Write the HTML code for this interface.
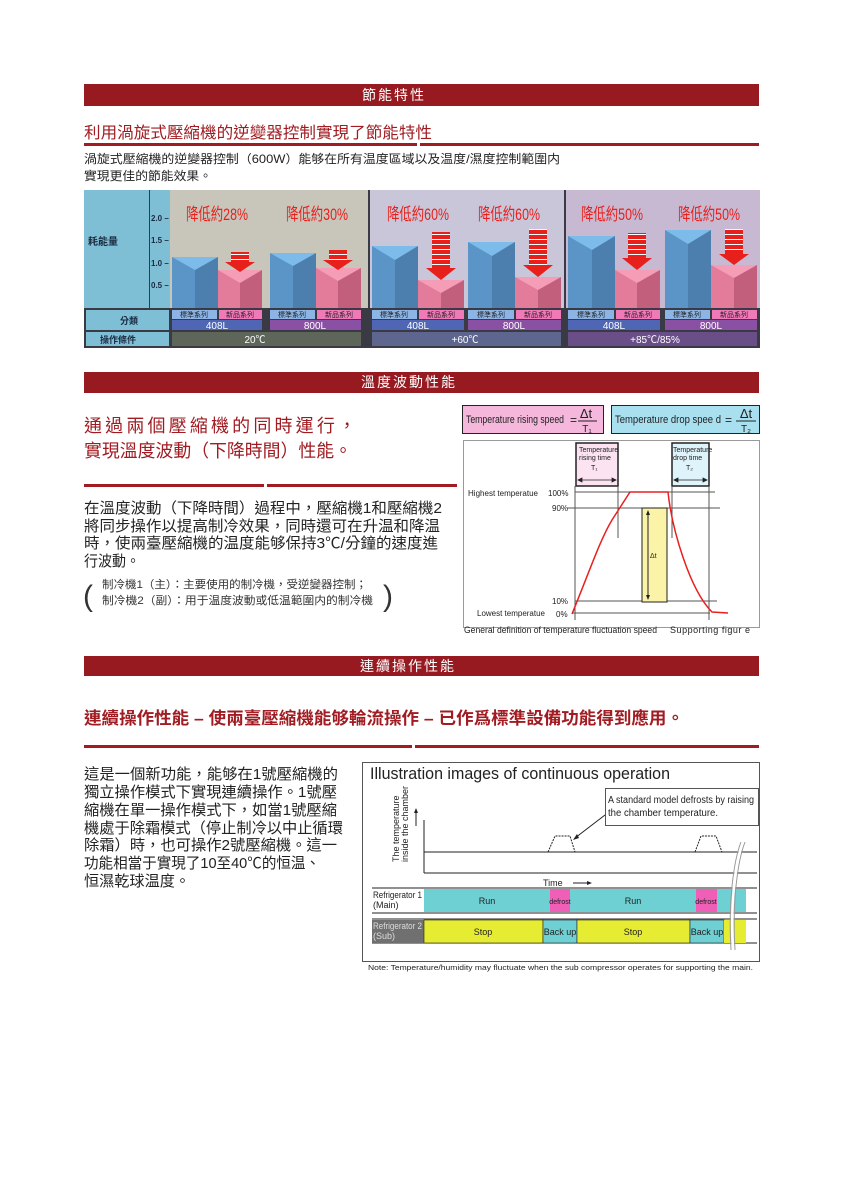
<!DOCTYPE html>
<html><head><meta charset="utf-8"><style>
html,body{margin:0;padding:0;background:#fff;}
svg{display:block;}
text{font-family:"Liberation Sans","Noto Sans CJK TC",sans-serif;}
</style></head><body>
<svg width="860" height="1179" viewBox="0 0 860 1179" xmlns="http://www.w3.org/2000/svg">
<!-- Section 1 -->
<rect x="84" y="84" width="675" height="22" fill="#961a20"/>
<text x="394" y="100" fill="#fff" font-size="14" text-anchor="middle" letter-spacing="2">節能特性</text>
<text x="84" y="138" fill="#a01c22" font-size="16" textLength="348" lengthAdjust="spacingAndGlyphs">利用渦旋式壓縮機的逆變器控制實現了節能特性</text>
<rect x="84" y="143" width="333" height="3" fill="#a01c22"/><rect x="420" y="143" width="339" height="3" fill="#a01c22"/>
<text x="84" y="163" fill="#222" font-size="12" textLength="476" lengthAdjust="spacingAndGlyphs">渦旋式壓縮機的逆變器控制（600W）能够在所有温度區域以及温度/濕度控制範圍内</text>
<text x="84" y="180" fill="#222" font-size="12" textLength="128" lengthAdjust="spacingAndGlyphs">實現更佳的節能效果。</text>

<!-- Chart -->
<rect x="84" y="190" width="676" height="158" fill="#3a3a44"/>
<rect x="84" y="190" width="65" height="118" fill="#7fbfd6"/>
<rect x="150" y="190" width="20" height="118" fill="#7fbfd6"/>
<rect x="170" y="190" width="198" height="118" fill="#c8c5bb"/>
<rect x="370" y="190" width="194" height="118" fill="#c9c6da"/>
<rect x="566" y="190" width="194" height="118" fill="#c8b9d3"/>
<text x="88" y="245" font-size="10" font-weight="bold" fill="#1a2a40">耗能量</text>
<g font-size="8" fill="#1a2a40" font-weight="bold">
<text x="151" y="221">2.0 –</text><text x="151" y="243">1.5 –</text><text x="151" y="266">1.0 –</text><text x="151" y="288">0.5 –</text>
</g>
<g font-size="17" fill="#e8201c">
<text x="186" y="220" textLength="62" lengthAdjust="spacingAndGlyphs">降低約28%</text><text x="286" y="220" textLength="62" lengthAdjust="spacingAndGlyphs">降低約30%</text>
<text x="387" y="220" textLength="62" lengthAdjust="spacingAndGlyphs">降低約60%</text><text x="478" y="220" textLength="62" lengthAdjust="spacingAndGlyphs">降低約60%</text>
<text x="581" y="220" textLength="62" lengthAdjust="spacingAndGlyphs">降低約50%</text><text x="678" y="220" textLength="62" lengthAdjust="spacingAndGlyphs">降低約50%</text>
</g>
<!-- bars -->
<g>
<rect x="172" y="257" width="23" height="51" fill="#5b95c8"/><rect x="195" y="257" width="23" height="51" fill="#4c7eae"/><polygon points="172,257 218,257 195,270" fill="#7cbbea"/>
<rect x="270" y="253" width="23" height="55" fill="#5b95c8"/><rect x="293" y="253" width="23" height="55" fill="#4c7eae"/><polygon points="270,253 316,253 293,266" fill="#7cbbea"/>
<rect x="372" y="246" width="23" height="62" fill="#5b95c8"/><rect x="395" y="246" width="23" height="62" fill="#4c7eae"/><polygon points="372,246 418,246 395,260" fill="#7cbbea"/>
<rect x="468" y="242" width="24" height="66" fill="#5b95c8"/><rect x="492" y="242" width="23" height="66" fill="#4c7eae"/><polygon points="468,242 515,242 492,256" fill="#7cbbea"/>
<rect x="568" y="236" width="24" height="72" fill="#5b95c8"/><rect x="592" y="236" width="23" height="72" fill="#4c7eae"/><polygon points="568,236 615,236 592,250" fill="#7cbbea"/>
<rect x="665" y="230" width="23" height="78" fill="#5b95c8"/><rect x="688" y="230" width="23" height="78" fill="#4c7eae"/><polygon points="665,230 711,230 688,244" fill="#7cbbea"/>
<rect x="218" y="270" width="22" height="38" fill="#e27c9a"/><rect x="240" y="270" width="22" height="38" fill="#c25f7d"/><polygon points="218,270 262,270 240,283" fill="#f59cb6"/>
<rect x="316" y="268" width="22" height="40" fill="#e27c9a"/><rect x="338" y="268" width="23" height="40" fill="#c25f7d"/><polygon points="316,268 361,268 338,281" fill="#f59cb6"/>
<rect x="418" y="280" width="23" height="28" fill="#e27c9a"/><rect x="441" y="280" width="23" height="28" fill="#c25f7d"/><polygon points="418,280 464,280 441,293" fill="#f59cb6"/>
<rect x="515" y="277" width="23" height="31" fill="#e27c9a"/><rect x="538" y="277" width="23" height="31" fill="#c25f7d"/><polygon points="515,277 561,277 538,290" fill="#f59cb6"/>
<rect x="615" y="270" width="22" height="38" fill="#e27c9a"/><rect x="637" y="270" width="23" height="38" fill="#c25f7d"/><polygon points="615,270 660,270 637,283" fill="#f59cb6"/>
<rect x="711" y="265" width="23" height="43" fill="#e27c9a"/><rect x="734" y="265" width="23" height="43" fill="#c25f7d"/><polygon points="711,265 757,265 734,278" fill="#f59cb6"/>
</g>
<defs><pattern id="st" width="4" height="5" patternUnits="userSpaceOnUse"><rect width="4" height="4" fill="#e8201c"/><rect y="4" width="4" height="1" fill="#fff"/></pattern></defs>
<g fill="#e8201c">
<rect x="231" y="252" width="18" height="10" fill="url(#st)"/><polygon points="225,262 255,262 240,272"/>
<rect x="329" y="250" width="18" height="10" fill="url(#st)"/><polygon points="323,260 353,260 338,270"/>
<rect x="432" y="232" width="18" height="36" fill="url(#st)"/><polygon points="426,268 456,268 441,280"/>
<rect x="529" y="229" width="18" height="36" fill="url(#st)"/><polygon points="523,265 553,265 538,277"/>
<rect x="628" y="233" width="18" height="25" fill="url(#st)"/><polygon points="622,258 652,258 637,270"/>
<rect x="725" y="229" width="18" height="25" fill="url(#st)"/><polygon points="719,254 749,254 734,265"/>
</g>
<rect x="86" y="310" width="83" height="20" fill="#7fbfd6"/>
<rect x="86" y="332" width="83" height="14" fill="#7fbfd6"/>
<text x="120" y="324" font-size="9" font-weight="bold" fill="#1a2a40">分類</text>
<text x="100" y="343" font-size="9" font-weight="bold" fill="#1a2a40">操作條件</text>
<g font-size="7" fill="#222" text-anchor="middle">
<rect x="172" y="310" width="45" height="9" fill="#8cb4e4"/><rect x="219" y="310" width="43" height="9" fill="#f07ab8"/>
<rect x="270" y="310" width="45" height="9" fill="#8cb4e4"/><rect x="317" y="310" width="44" height="9" fill="#f07ab8"/>
<rect x="372" y="310" width="45" height="9" fill="#8cb4e4"/><rect x="419" y="310" width="45" height="9" fill="#f07ab8"/>
<rect x="468" y="310" width="46" height="9" fill="#8cb4e4"/><rect x="516" y="310" width="45" height="9" fill="#f07ab8"/>
<rect x="568" y="310" width="46" height="9" fill="#8cb4e4"/><rect x="616" y="310" width="44" height="9" fill="#f07ab8"/>
<rect x="665" y="310" width="45" height="9" fill="#8cb4e4"/><rect x="712" y="310" width="45" height="9" fill="#f07ab8"/>
<text x="194" y="317">標準系列</text><text x="240" y="317">新品系列</text>
<text x="292" y="317">標準系列</text><text x="339" y="317">新品系列</text>
<text x="394" y="317">標準系列</text><text x="441" y="317">新品系列</text>
<text x="491" y="317">標準系列</text><text x="538" y="317">新品系列</text>
<text x="591" y="317">標準系列</text><text x="638" y="317">新品系列</text>
<text x="687" y="317">標準系列</text><text x="734" y="317">新品系列</text>
</g>
<g font-size="10" fill="#fff" text-anchor="middle">
<rect x="172" y="320" width="90" height="10" fill="#4f66b4"/><rect x="270" y="320" width="91" height="10" fill="#8a50a4"/>
<rect x="372" y="320" width="92" height="10" fill="#4f66b4"/><rect x="468" y="320" width="93" height="10" fill="#8a50a4"/>
<rect x="568" y="320" width="92" height="10" fill="#4f66b4"/><rect x="665" y="320" width="92" height="10" fill="#8a50a4"/>
<text x="217" y="329">408L</text><text x="315" y="329">800L</text>
<text x="418" y="329">408L</text><text x="514" y="329">800L</text>
<text x="614" y="329">408L</text><text x="711" y="329">800L</text>
<rect x="172" y="332" width="189" height="14" fill="#5e665a"/>
<rect x="372" y="332" width="189" height="14" fill="#5e6690"/>
<rect x="568" y="332" width="189" height="14" fill="#6a4e88"/>
<text x="255" y="343">20℃</text><text x="465" y="343">+60℃</text><text x="655" y="343">+85℃/85%</text>
</g>

<!-- Section 2 -->
<rect x="84" y="372" width="675" height="21" fill="#961a20"/>
<text x="409" y="387" fill="#fff" font-size="14" text-anchor="middle" letter-spacing="2">溫度波動性能</text>
<text x="84" y="432" fill="#a01c22" font-size="18" textLength="272" lengthAdjust="spacing">通過兩個壓縮機的同時運行，</text>
<text x="84" y="457" fill="#a01c22" font-size="18" textLength="268" lengthAdjust="spacingAndGlyphs">實現溫度波動（下降時間）性能。</text>
<rect x="84" y="484" width="180" height="3" fill="#a01c22"/><rect x="267" y="484" width="190" height="3" fill="#a01c22"/>
<g font-size="15" fill="#222">
<text x="84" y="513" textLength="358" lengthAdjust="spacingAndGlyphs">在溫度波動（下降時間）過程中，壓縮機1和壓縮機2</text>
<text x="84" y="531" textLength="356" lengthAdjust="spacingAndGlyphs">將同步操作以提高制冷效果，同時還可在升温和降温</text>
<text x="84" y="548" textLength="354" lengthAdjust="spacingAndGlyphs">時，使兩臺壓縮機的温度能够保持3℃/分鐘的速度進</text>
<text x="84" y="566" textLength="56" lengthAdjust="spacingAndGlyphs">行波動。</text>
</g>
<text x="83" y="606" font-size="30" fill="#333" font-weight="lighter">(</text>
<text x="383" y="606" font-size="30" fill="#333" font-weight="lighter">)</text>
<text x="102" y="588" font-size="11" fill="#333" textLength="265" lengthAdjust="spacingAndGlyphs">制冷機1（主）：主要使用的制冷機，受逆變器控制；</text>
<text x="102" y="604" font-size="11" fill="#333" textLength="271" lengthAdjust="spacingAndGlyphs">制冷機2（副）：用于温度波動或低温範圍内的制冷機</text>

<!-- temp diagram -->
<rect x="462.5" y="405.5" width="141" height="28" fill="#f5b8dc" stroke="#222"/>
<text x="466" y="423" font-size="11" fill="#222" textLength="98" lengthAdjust="spacingAndGlyphs">Temperature rising speed</text>
<text x="570" y="424" font-size="12" fill="#222">=</text>
<text x="586" y="418" font-size="13" fill="#222" text-anchor="middle">Δt</text>
<line x1="578" y1="421" x2="597" y2="421" stroke="#222"/>
<text x="587" y="432" font-size="10" fill="#222" text-anchor="middle">T₁</text>
<rect x="611.5" y="405.5" width="148" height="28" fill="#a9e0f0" stroke="#222"/>
<text x="615" y="423" font-size="11" fill="#222" textLength="106" lengthAdjust="spacingAndGlyphs">Temperature drop spee d</text>
<text x="725" y="424" font-size="12" fill="#222">=</text>
<text x="746" y="418" font-size="13" fill="#222" text-anchor="middle">Δt</text>
<line x1="736" y1="421" x2="756" y2="421" stroke="#222"/>
<text x="746" y="432" font-size="10" fill="#222" text-anchor="middle">T₂</text>
<rect x="463.5" y="440.5" width="296" height="187" fill="#fff" stroke="#999"/>
<rect x="576" y="443" width="42" height="43" fill="#fbe3f1" stroke="#222" stroke-width="1.5"/>
<rect x="672" y="443" width="37" height="43" fill="#dff3fa" stroke="#222" stroke-width="1.5"/>
<g font-size="7" fill="#222">
<text x="579" y="452">Temperature</text><text x="579" y="460">rising time</text><text x="591" y="470">T₁</text>
<text x="673" y="452">Temperature</text><text x="673" y="460">drop time</text><text x="686" y="470">T₂</text>
</g>
<g stroke="#222" stroke-width="0.8" fill="#222">
<line x1="578" y1="480" x2="616" y2="480"/><polygon points="578,480 582,478 582,482"/><polygon points="616,480 612,478 612,482"/>
<line x1="674" y1="480" x2="707" y2="480"/><polygon points="674,480 678,478 678,482"/><polygon points="707,480 703,478 703,482"/>
</g>
<g stroke="#555" stroke-width="1">
<line x1="575" y1="492" x2="715" y2="492"/><line x1="567" y1="508" x2="720" y2="508"/>
<line x1="575" y1="601" x2="717" y2="601"/><line x1="572" y1="613" x2="710" y2="613"/>
<line x1="575" y1="486" x2="575" y2="620"/><line x1="618" y1="486" x2="618" y2="538"/>
<line x1="672" y1="486" x2="672" y2="538"/><line x1="709" y1="486" x2="709" y2="620"/>
</g>
<rect x="642" y="508" width="25" height="94" fill="#fbf3a8" stroke="#222"/>
<line x1="648" y1="512" x2="648" y2="598" stroke="#222"/>
<polygon points="648,510 646,515 650,515" fill="#222"/><polygon points="648,600 646,595 650,595" fill="#222"/>
<text x="650" y="558" font-size="7" fill="#222">Δt</text>
<path d="M572,614 C590,570 600,540 612,520 L630,492 L668,492 C672,530 690,590 712,612 L728,613" fill="none" stroke="#e82020" stroke-width="1.5"/>
<g font-size="8" fill="#222">
<text x="468" y="496" textLength="70" lengthAdjust="spacingAndGlyphs">Highest temperatue</text>
<text x="548" y="496">100%</text><text x="552" y="511">90%</text><text x="552" y="604">10%</text>
<text x="477" y="616" textLength="68" lengthAdjust="spacingAndGlyphs">Lowest temperatue</text><text x="556" y="617">0%</text>
<text x="464" y="633" font-size="9" textLength="193" lengthAdjust="spacingAndGlyphs">General definition of temperature fluctuation speed</text>
<text x="670" y="633" font-size="9" textLength="80" lengthAdjust="spacing">Supporting figur e</text>
</g>

<!-- Section 3 -->
<rect x="84" y="656" width="675" height="20" fill="#961a20"/>
<text x="408" y="671" fill="#fff" font-size="14" text-anchor="middle" letter-spacing="2">連續操作性能</text>
<text x="84" y="724" fill="#a01c22" font-size="17" font-weight="bold" textLength="600" lengthAdjust="spacingAndGlyphs">連續操作性能 – 使兩臺壓縮機能够輪流操作 – 已作爲標準設備功能得到應用。</text>
<rect x="84" y="745" width="328" height="3" fill="#a01c22"/><rect x="415" y="745" width="344" height="3" fill="#a01c22"/>
<g font-size="15" fill="#222">
<text x="84" y="779" textLength="254" lengthAdjust="spacingAndGlyphs">這是一個新功能，能够在1號壓縮機的</text>
<text x="84" y="797" textLength="253" lengthAdjust="spacingAndGlyphs">獨立操作模式下實現連續操作。1號壓</text>
<text x="84" y="815" textLength="253" lengthAdjust="spacingAndGlyphs">縮機在單一操作模式下，如當1號壓縮</text>
<text x="84" y="833" textLength="259" lengthAdjust="spacingAndGlyphs">機處于除霜模式（停止制冷以中止循環</text>
<text x="84" y="850" textLength="253" lengthAdjust="spacingAndGlyphs">除霜）時，也可操作2號壓縮機。這一</text>
<text x="84" y="868" textLength="236" lengthAdjust="spacingAndGlyphs">功能相當于實現了10至40℃的恒温、</text>
<text x="84" y="886" textLength="106" lengthAdjust="spacingAndGlyphs">恒濕乾球温度。</text>
</g>

<!-- continuous diagram -->
<rect x="362.5" y="762.5" width="397" height="199" fill="#fff" stroke="#555"/>
<text x="370" y="779" font-size="17" fill="#222" textLength="300" lengthAdjust="spacingAndGlyphs">Illustration images of continuous operation</text>
<rect x="605.5" y="788.5" width="153" height="37" fill="#fff" stroke="#555"/>
<text x="608" y="803" font-size="10" fill="#222" textLength="146" lengthAdjust="spacingAndGlyphs">A standard model defrosts by raising</text>
<text x="608" y="816" font-size="10" fill="#222" textLength="110" lengthAdjust="spacingAndGlyphs">the chamber temperature.</text>
<line x1="605" y1="815" x2="575" y2="838" stroke="#222"/>
<polygon points="573,840 577,834 579,838" fill="#222"/>
<text transform="translate(399,862) rotate(-90)" font-size="9" fill="#222">The temperature</text>
<text transform="translate(408,862) rotate(-90)" font-size="9" fill="#222">inside the chamber</text>
<line x1="416" y1="826" x2="416" y2="812" stroke="#222"/><polygon points="416,808 414,813 418,813" fill="#222"/>
<line x1="424" y1="820" x2="424" y2="873" stroke="#222"/>
<line x1="424" y1="873" x2="757" y2="873" stroke="#222"/>
<line x1="424" y1="852" x2="757" y2="852" stroke="#222"/>
<path d="M548,852 L555,836 L570,836 L575,852" fill="none" stroke="#222" stroke-dasharray="2,1"/>
<path d="M695,852 L701,836 L716,836 L722,852" fill="none" stroke="#222" stroke-dasharray="2,1"/>
<text x="543" y="886" font-size="9" fill="#222">Time</text>
<line x1="573" y1="883" x2="588" y2="883" stroke="#222"/><polygon points="592,883 587,881 587,885" fill="#222"/>
<line x1="372" y1="888" x2="757" y2="888" stroke="#222"/>
<line x1="372" y1="913" x2="757" y2="913" stroke="#222"/>
<line x1="372" y1="919" x2="757" y2="919" stroke="#222"/>
<line x1="372" y1="943" x2="757" y2="943" stroke="#222"/>
<rect x="424" y="889" width="126" height="23" fill="#6fd0d4"/>
<rect x="550" y="889" width="20" height="23" fill="#ef5fb8"/>
<rect x="570" y="889" width="126" height="23" fill="#6fd0d4"/>
<rect x="696" y="889" width="21" height="23" fill="#ef5fb8"/>
<rect x="717" y="889" width="29" height="23" fill="#6fd0d4"/>
<rect x="372" y="920" width="52" height="23" fill="#707070"/>
<rect x="424" y="920" width="119" height="23" fill="#e6ec32" stroke="#222" stroke-width="0.6"/>
<rect x="543" y="920" width="34" height="23" fill="#6fd0d4" stroke="#222" stroke-width="0.6"/>
<rect x="577" y="920" width="113" height="23" fill="#e6ec32" stroke="#222" stroke-width="0.6"/>
<rect x="690" y="920" width="34" height="23" fill="#6fd0d4" stroke="#222" stroke-width="0.6"/>
<rect x="724" y="920" width="22" height="23" fill="#e6ec32"/>
<path d="M731,950 C728,900 734,860 741,842 M735,950 C732,900 738,860 745,842" fill="none" stroke="#999" stroke-width="1"/>
<path d="M733,950 C730,900 736,860 743,842" fill="none" stroke="#fff" stroke-width="2.5"/>
<g font-size="9" fill="#222" text-anchor="middle">
<text x="487" y="904">Run</text><text x="560" y="904" font-size="7">defrost</text>
<text x="633" y="904">Run</text><text x="706" y="904" font-size="7">defrost</text>
<text x="483" y="935">Stop</text><text x="560" y="935">Back up</text>
<text x="633" y="935">Stop</text><text x="707" y="935">Back up</text>
</g>
<g font-size="9">
<text x="373" y="898" fill="#222" textLength="49" lengthAdjust="spacingAndGlyphs">Refrigerator 1</text><text x="373" y="908" fill="#222">(Main)</text>
<text x="373" y="929" fill="#ddd" textLength="49" lengthAdjust="spacingAndGlyphs">Refrigerator 2</text><text x="373" y="939" fill="#ddd">(Sub)</text>
</g>
<text x="368" y="970" font-size="7.5" fill="#222" textLength="385" lengthAdjust="spacingAndGlyphs">Note: Temperature/humidity may fluctuate when the sub compressor operates for supporting the main.</text>
</svg>
</body></html>
